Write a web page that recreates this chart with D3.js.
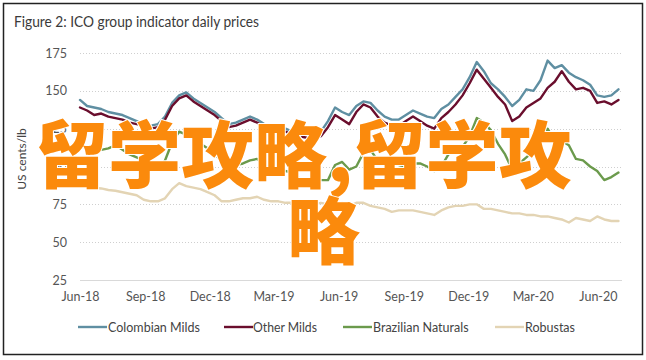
<!DOCTYPE html>
<html>
<head>
<meta charset="utf-8">
<script src="https://cdn.jsdelivr.net/npm/d3@7"></script>
<style>
  html, body { margin: 0; padding: 0; background: #fff; }
  svg { display: block; }
</style>
</head>
<body>
<svg id="chart" width="646" height="360"></svg>
<script>
const titleText = "Figure 2: ICO group indicator daily prices";
const yAxisTitle = "US cents/lb";
const seriesNames = ["Colombian Milds", "Other Milds", "Brazilian Naturals", "Robustas"];
const seriesColors = ["#5f8fa2", "#6a0e2d", "#6b9a4c", "#e3d4b4"];
const yTicks = [25, 50, 75, 100, 125, 150, 175];
const xTickLabels = ["Jun-18","Sep-18","Dec-18","Mar-19","Jun-19","Sep-19","Dec-19","Mar-20","Jun-20"];
const overlayRows = ["留学攻略,留学攻", "略"];

// sampling: every 10 days from 1 Jun 2018
const startDate = "2018-06-01";
const stepDays = 10;

const colombianMilds = [144,140,139,138,136,135,134,132,130,128,127,128,133,142,147,149,145,142,139,136,
  132,128,129,131,133,131,128,126,124,125,123,122,121,121,123,130,139,136,134,140,
  143,142,137,133,131,131,134,137,135,133,132,138,141,146,151,159,169,163,155,151,
  146,140,144,151,150,157,170,165,167,162,159,157,154,147,146,147,151];
const otherMilds = [139,137,134,135,133,132,131,129,128,127,125,126,131,140,145,147,143,140,137,134,
  130,126,127,129,131,129,126,124,122,123,121,120,119,118,120,126,134,131,128,136,
  141,139,133,129,127,127,130,133,130,127,125,132,136,141,147,155,164,158,152,146,
  141,130,133,139,142,145,152,156,163,156,151,152,150,142,143,141,144];
const brazilianNaturals = [114,112,110,111,112,114,111,108,106,104,103,99,104,116,123,121,119,115,112,108,
  104,103,101,102,104,105,102,98,97,97,96,92,91,90,91,91,101,103,98,100,
  109,111,104,101,96,99,100,102,102,100,97,100,108,110,113,120,132,129,124,115,
  108,98,102,106,110,118,125,117,117,114,105,104,100,97,91,93,96];
const robustas = [88,87,86,85.5,84.5,84,83,82,81,78,77,77,79,85,89,87,86,85,83,81,
  77,77,78,79,79,80,78,77,77,76,76,75,76,75,76,75,75,76,74,76,
  76,74,73,72,70,71,71,71,70,69,68,71,73,74,74,75,75,72,72,71,
  70,69,69,68,68,67,67,66,65,63,66,65,64,67,65,64,64];

const seriesValues = [colombianMilds, otherMilds, brazilianNaturals, robustas];

const svg = d3.select("#chart");
const font = "Lato, 'Open Sans', sans-serif";

// frame
svg.append("rect").attr("x", 3.5).attr("y", 3.5).attr("width", 639).attr("height", 351)
  .attr("fill", "#fff").attr("stroke", "#222").attr("stroke-width", 1.5);

const parseISO = d3.timeParse("%Y-%m-%d");
const t0 = parseISO(startDate);
const dates = colombianMilds.map((_, i) => d3.timeDay.offset(t0, i * stepDays));

const x = d3.scaleTime()
  .domain([parseISO("2018-06-01"), parseISO("2020-07-05")])
  .range([80, 622]);
const y = d3.scaleLinear().domain([25, 175]).range([280, 53]);

function fitText(sel, target) {
  const len = sel.node().getComputedTextLength();
  if (len > target) sel.attr("textLength", target).attr("lengthAdjust", "spacingAndGlyphs");
}

// title
const title = svg.append("text").attr("x", 14).attr("y", 27)
  .attr("font-family", font).attr("font-size", 15.5).attr("fill", "#3a3a3a").text(titleText);
fitText(title, 245);

// grid
const gGrid = svg.append("g");
gGrid.selectAll("line").data(yTicks).join("line")
  .attr("x1", 80).attr("x2", 622)
  .attr("y1", d => Math.round(y(d)) + 0.5).attr("y2", d => Math.round(y(d)) + 0.5)
  .attr("stroke", d => d === 25 ? "#d9d9d9" : "#cfcfcf")
  .attr("stroke-width", d => d === 25 ? 1.2 : 1)
  .attr("stroke-dasharray", d => d === 25 ? null : "1,2");

// y axis labels
const yAxis = d3.axisLeft(y).tickValues(yTicks).tickSize(0).tickPadding(0);
const gy = svg.append("g").attr("transform", "translate(67,0)").call(yAxis);
gy.select(".domain").remove();
gy.selectAll("text").attr("font-family", font).attr("font-size", 12.5).attr("fill", "#555");

// y title
svg.append("text").attr("transform", "translate(26,159) rotate(-90)")
  .attr("text-anchor", "middle").attr("font-family", font).attr("font-size", 12)
  .attr("fill", "#444").text(yAxisTitle);

// x axis labels
const parseTick = d3.timeParse("%b-%y");
const fmt = d3.timeFormat("%b-%y");
const xAxis = d3.axisBottom(x).tickValues(xTickLabels.map(parseTick)).tickFormat(fmt).tickSize(0).tickPadding(0);
const gx = svg.append("g").attr("transform", "translate(0,292)").call(xAxis);
gx.select(".domain").remove();
gx.selectAll("text").attr("font-family", font).attr("font-size", 12.5).attr("fill", "#555");

// lines
const line = d3.line().x((d, i) => x(dates[i])).y(d => y(d)).curve(d3.curveLinear);
const gLines = svg.append("g");
const drawOrder = [3, 2, 0, 1];
drawOrder.forEach(k => {
  gLines.append("path").datum(seriesValues[k])
    .attr("d", line).attr("fill", "none")
    .attr("stroke", seriesColors[k]).attr("stroke-width", 2.4)
    .attr("stroke-linejoin", "round").attr("stroke-linecap", "round");
});

// legend
const legendPos = [[78, 108], [224, 253], [343, 373], [495, 525]];
const legendW = [92, 64, 97, 50];
const gLeg = svg.append("g");
seriesNames.forEach((name, k) => {
  const [lx, tx] = legendPos[k];
  gLeg.append("line").attr("x1", lx).attr("x2", lx + 29).attr("y1", 327).attr("y2", 327)
    .attr("stroke", seriesColors[k]).attr("stroke-width", 2.4);
  const t = gLeg.append("text").attr("x", tx).attr("y", 331.5)
    .attr("font-family", font).attr("font-size", 12.5).attr("fill", "#444").text(name);
  fitText(t, legendW[k]);
});

// overlay text
const gOv = svg.append("g");
const rowPos = [[35, 182], [287, 258]];
overlayRows.forEach((txt, r) => {
  gOv.append("text").attr("x", rowPos[r][0]).attr("y", rowPos[r][1])
    .attr("font-family", "'Noto Sans CJK SC', sans-serif").attr("font-weight", 900)
    .attr("font-size", 73).attr("fill", "#fb8a0c")
    .attr("stroke", "#fff").attr("stroke-width", 2).attr("paint-order", "stroke")
    .text(txt);
});
</script>
</body>
</html>
